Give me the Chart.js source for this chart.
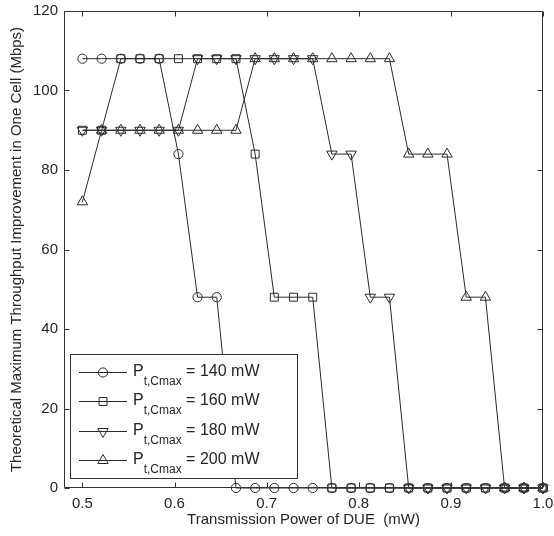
<!DOCTYPE html>
<html>
<head>
<meta charset="utf-8">
<script src="https://cdn.jsdelivr.net/npm/chart.js@4.4.1/dist/chart.umd.min.js"></script>
<style>
  html, body { margin: 0; padding: 0; background: #ffffff; }
  #wrap { width: 554px; height: 536px; }
</style>
</head>
<body>
<div id="wrap"><canvas id="c" width="554" height="536"></canvas></div>
<script>
// ---- data (25 evenly spaced transmission powers, 0.5 .. 1.0 mW) ----
const xValues   = [0.5000, 0.5208, 0.5417, 0.5625, 0.5833, 0.6042, 0.6250, 0.6458, 0.6667,
                   0.6875, 0.7083, 0.7292, 0.7500, 0.7708, 0.7917, 0.8125, 0.8333, 0.8542,
                   0.8750, 0.8958, 0.9167, 0.9375, 0.9583, 0.9792, 1.0000];
const power140  = [108, 108, 108, 108, 108, 84, 48, 48, 0, 0, 0, 0, 0,
                   0, 0, 0, 0, 0, 0, 0, 0, 0, 0, 0, 0];
const power160  = [90, 90, 108, 108, 108, 108, 108, 108, 108, 84, 48, 48, 48,
                   0, 0, 0, 0, 0, 0, 0, 0, 0, 0, 0, 0];
const power180  = [90, 90, 90, 90, 90, 90, 108, 108, 108, 108, 108, 108, 108,
                   84, 84, 48, 48, 0, 0, 0, 0, 0, 0, 0, 0];
const power200  = [72, 90, 90, 90, 90, 90, 90, 90, 90, 108, 108, 108, 108,
                   108, 108, 108, 108, 84, 84, 84, 48, 48, 0, 0, 0];
const seriesValues = ['140 mW', '160 mW', '180 mW', '200 mW'];
const xTickValues  = [0.5, 0.6, 0.7, 0.8, 0.9, 1.0];
const xTickLabels  = ['0.5', '0.6', '0.7', '0.8', '0.9', '1.0'];
const yTickStep    = 20;
const xTitle = 'Transmission Power of DUE  (mW)';
const yTitle = 'Theoretical Maximum Throughput Improvement in One Cell (Mbps)';

// ---- styling ----
const FONT = "'Liberation Sans', Arial, Helvetica, sans-serif";
const INK = '#262626';
const LINE = '#2b2b2b';
const markers = [
  { pointStyle: 'circle',   rotation: 0,   radius: 4.6 },
  { pointStyle: 'rect',     rotation: 0,   radius: 5.6 },
  { pointStyle: 'triangle', rotation: 180, radius: 6.0 },
  { pointStyle: 'triangle', rotation: 0,   radius: 6.0 }
];
const allSeries = [power140, power160, power180, power200];

const datasets = allSeries.map((vals, i) => ({
  label: seriesValues[i],
  data: xValues.map((x, k) => ({ x: x, y: vals[k] })),
  borderColor: LINE,
  borderWidth: 1,
  pointStyle: markers[i].pointStyle,
  pointRotation: markers[i].rotation,
  pointRadius: markers[i].radius,
  pointBorderWidth: 1,
  pointBorderColor: LINE,
  pointBackgroundColor: 'rgba(0,0,0,0)',
  fill: false,
  tension: 0,
  clip: false
}));

function drawMarker(ctx, m, x, y) {
  ctx.beginPath();
  if (m.pointStyle === 'circle') {
    ctx.arc(x, y, m.radius, 0, Math.PI * 2);
  } else if (m.pointStyle === 'rect') {
    const s = m.radius * Math.SQRT1_2;
    ctx.rect(x - s, y - s, 2 * s, 2 * s);
  } else {
    let rad = m.rotation * Math.PI / 180;
    for (let k = 0; k < 3; k++) {
      const px = x + Math.sin(rad) * m.radius, py = y - Math.cos(rad) * m.radius;
      if (k === 0) ctx.moveTo(px, py); else ctx.lineTo(px, py);
      rad += 2 * Math.PI / 3;
    }
    ctx.closePath();
  }
  ctx.stroke();
}

const framePlugin = {
  id: 'matlabFrame',
  afterDatasetsDraw(chart, args, opts) {
    const { ctx, chartArea: a, scales } = chart;
    const xs = scales.x, ys = scales.y;
    ctx.save();
    ctx.strokeStyle = '#333333';
    ctx.lineWidth = 1;
    const L = Math.round(a.left) + 0.5, R = Math.round(a.right) - 0.5;
    const T = Math.round(a.top) + 0.5, B = Math.round(a.bottom) - 0.5;
    ctx.beginPath();
    ctx.rect(L, T, R - L, B - T);
    const tl = 5;
    xs.ticks.forEach(t => {
      const px = Math.round(xs.getPixelForValue(t.value)) + 0.5;
      ctx.moveTo(px, B); ctx.lineTo(px, B - tl);
      ctx.moveTo(px, T); ctx.lineTo(px, T + tl);
    });
    ys.ticks.forEach(t => {
      const py = Math.round(ys.getPixelForValue(t.value)) + 0.5;
      ctx.moveTo(L, py); ctx.lineTo(L + tl, py);
      ctx.moveTo(R, py); ctx.lineTo(R - tl, py);
    });
    ctx.stroke();

    // legend box
    const bx = opts.left, by = opts.top, bw = opts.width, bh = opts.height;
    ctx.fillStyle = '#ffffff';
    ctx.fillRect(bx, by, bw, bh);
    ctx.strokeStyle = '#333333';
    ctx.strokeRect(bx + 0.5, by + 0.5, bw, bh);
    chart.data.datasets.forEach((ds, i) => {
      const ry = Math.round(by + opts.firstRow + i * opts.rowStep) + 0.5;
      ctx.strokeStyle = LINE;
      ctx.lineWidth = 1;
      ctx.beginPath();
      ctx.moveTo(bx + opts.lineStart, ry);
      ctx.lineTo(bx + opts.lineEnd, ry);
      ctx.stroke();
      drawMarker(ctx, markers[i], bx + (opts.lineStart + opts.lineEnd) / 2, ry);
      ctx.fillStyle = INK;
      ctx.textBaseline = 'alphabetic';
      ctx.textAlign = 'left';
      let tx = bx + opts.textStart;
      ctx.font = '16px ' + FONT;
      ctx.fillText('P', tx, ry + 3);
      tx += ctx.measureText('P').width;
      ctx.font = '12px ' + FONT;
      ctx.fillText('t,Cmax', tx, ry + 12);
      tx += ctx.measureText('t,Cmax').width;
      ctx.font = '16px ' + FONT;
      tx += ctx.measureText(' ').width;
      ctx.fillText('= ' + ds.label, tx, ry + 3);
    });
    ctx.restore();
  }
};

new Chart(document.getElementById('c'), {
  type: 'line',
  data: { datasets: datasets },
  plugins: [framePlugin],
  options: {
    responsive: false,
    animation: false,
    devicePixelRatio: 1,
    events: [],
    layout: { padding: { left: 0, right: 11, top: 11, bottom: 0 } },
    plugins: {
      legend: { display: false },
      tooltip: { enabled: false },
      matlabFrame: { left: 70, top: 354, width: 227, height: 124, firstRow: 18, rowStep: 29.3, lineStart: 9, lineEnd: 57, textStart: 63 }
    },
    scales: {
      x: {
        type: 'linear',
        min: 0.48,
        max: 1.0,
        afterBuildTicks: s => { s.ticks = xTickValues.map(v => ({ value: v })); },
        afterFit: s => { s.height = 48; s.paddingLeft = 0; s.paddingRight = 0; },
        ticks: {
          autoSkip: false, maxRotation: 0, padding: 7,
          callback: (v, i) => xTickLabels[i],
          font: { family: FONT, size: 15 }, color: INK
        },
        grid: { display: false, drawTicks: false },
        border: { display: false },
        title: { display: true, text: xTitle, font: { family: FONT, size: 15 }, color: INK, padding: { top: 0, bottom: 7 } }
      },
      y: {
        type: 'linear',
        min: 0,
        max: 120,
        afterFit: s => { s.width = 64; s.paddingTop = 0; s.paddingBottom = 0; },
        ticks: {
          stepSize: yTickStep, padding: 6,
          font: { family: FONT, size: 15 }, color: INK
        },
        grid: { display: false, drawTicks: false },
        border: { display: false },
        title: { display: true, text: yTitle, font: { family: FONT, size: 15 }, color: INK, padding: { top: 8, bottom: 0 } }
      }
    }
  }
});
</script>
</body>
</html>
